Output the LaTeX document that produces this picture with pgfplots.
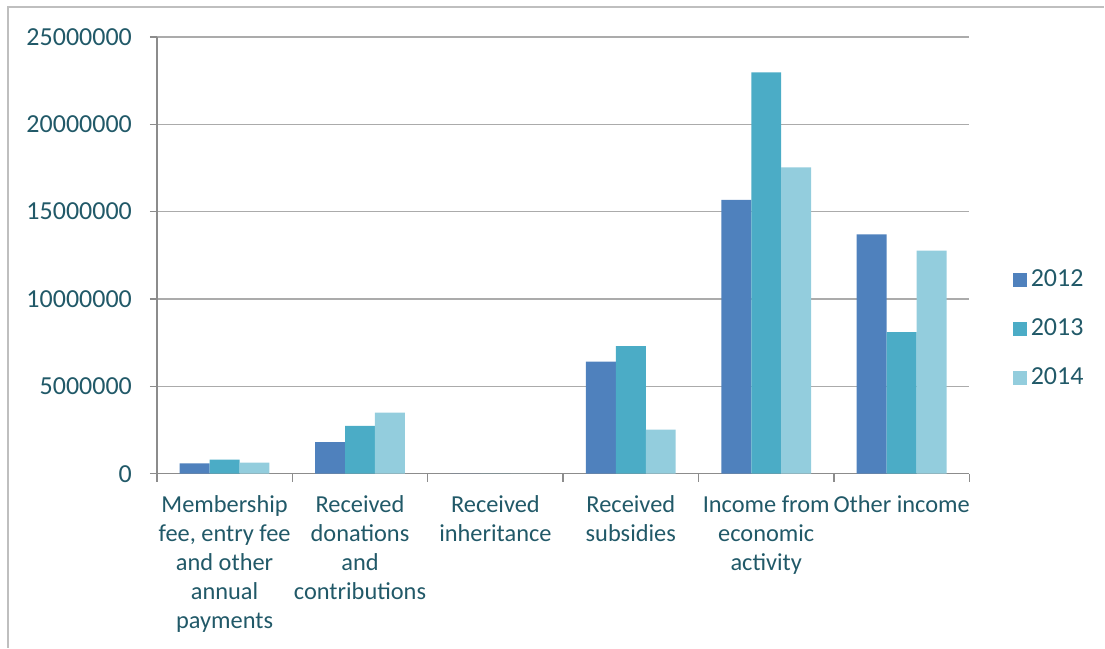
\documentclass[border=0pt]{standalone}
\usepackage{fontspec}
\setmainfont{Carlito}
\usepackage{pgfplots}
\pgfplotsset{compat=1.18}
\definecolor{c2012}{HTML}{4F81BD}
\definecolor{c2013}{HTML}{4BACC6}
\definecolor{c2014}{HTML}{93CDDD}
\definecolor{txt}{HTML}{215968}
\definecolor{axisgray}{HTML}{8C8C8C}
\definecolor{gridgray}{HTML}{ABABAB}
\definecolor{framegray}{HTML}{BFBFBF}

\begin{document}
\begin{tikzpicture}
\begin{axis}[
  at={(0,0)}, anchor=south west,
  scale only axis,
  width=406.5pt, height=218.5pt,
  ybar, bar width=0.221,
  xmin=-0.5, xmax=5.5,
  ymin=0, ymax=25000000,
  ytick={0,5000000,10000000,15000000,20000000,25000000},
  scaled y ticks=false,
  yticklabel style={/pgf/number format/fixed, /pgf/number format/1000 sep={},
    /pgf/number format/assume math mode=true},
  xtick={0,1,2,3,4,5},
  minor xtick={-0.5,0.5,1.5,2.5,3.5,4.5,5.5},
  xticklabels={{Membership\\fee, entry fee\\and other\\annual\\payments},
    {Received\\donations\\and\\contributions},
    {Received\\inheritance},
    {Received\\subsidies},
    {Income from\\economic\\activity},
    {Other income}},
  xticklabel style={align=center, anchor=north,
    font=\fontsize{12.2}{14.5}\selectfont, yshift=-4pt},
  yticklabel style={font=\fontsize{13}{14.5}\selectfont, xshift=-5.5pt},
  tick label style={text=txt},
  axis x line*=bottom, axis y line*=left,
  axis line style={axisgray, line width=0.75pt},
  major x tick style={draw=none},
  minor x tick style={axisgray, line width=0.75pt},
  major y tick style={axisgray, line width=0.75pt},
  tick align=outside,
  major tick length=3.5pt, minor tick length=4pt,
  ymajorgrids=true,
  grid style={gridgray, line width=0.6pt},
  legend style={at={(1.053,0.332)}, anchor=west, draw=none, fill=none,
    font=\fontsize{13}{14.5}\selectfont, text=txt,
    row sep=10.5pt, inner sep=0pt},
  legend cell align=left,
  legend image code/.code={\fill[#1] (0pt,-3.5pt) rectangle (7pt,3.5pt);},
  clip=false,
]
\addplot[fill=c2012, draw=none, bar shift=-0.221]
  coordinates {(0,590000) (1,1810000) (2,0) (3,6420000) (4,15680000) (5,13700000)};
\addlegendentry{2012}
\addplot[fill=c2013, draw=none, bar shift=0]
  coordinates {(0,800000) (1,2740000) (2,0) (3,7300000) (4,22970000) (5,8100000)};
\addlegendentry{2013}
\addplot[fill=c2014, draw=none, bar shift=0.221]
  coordinates {(0,630000) (1,3500000) (2,0) (3,2520000) (4,17530000) (5,12770000)};
\addlegendentry{2014}
\end{axis}
% outer chart frame (left and top edges visible)
\draw[framegray, line width=0.75pt] (-74.5pt,-87pt) -- (-74.5pt,233.5pt) -- (474pt,233.5pt);
\useasboundingbox (-78.5pt,-87pt) rectangle (474pt,237pt);
\end{tikzpicture}
\end{document}
